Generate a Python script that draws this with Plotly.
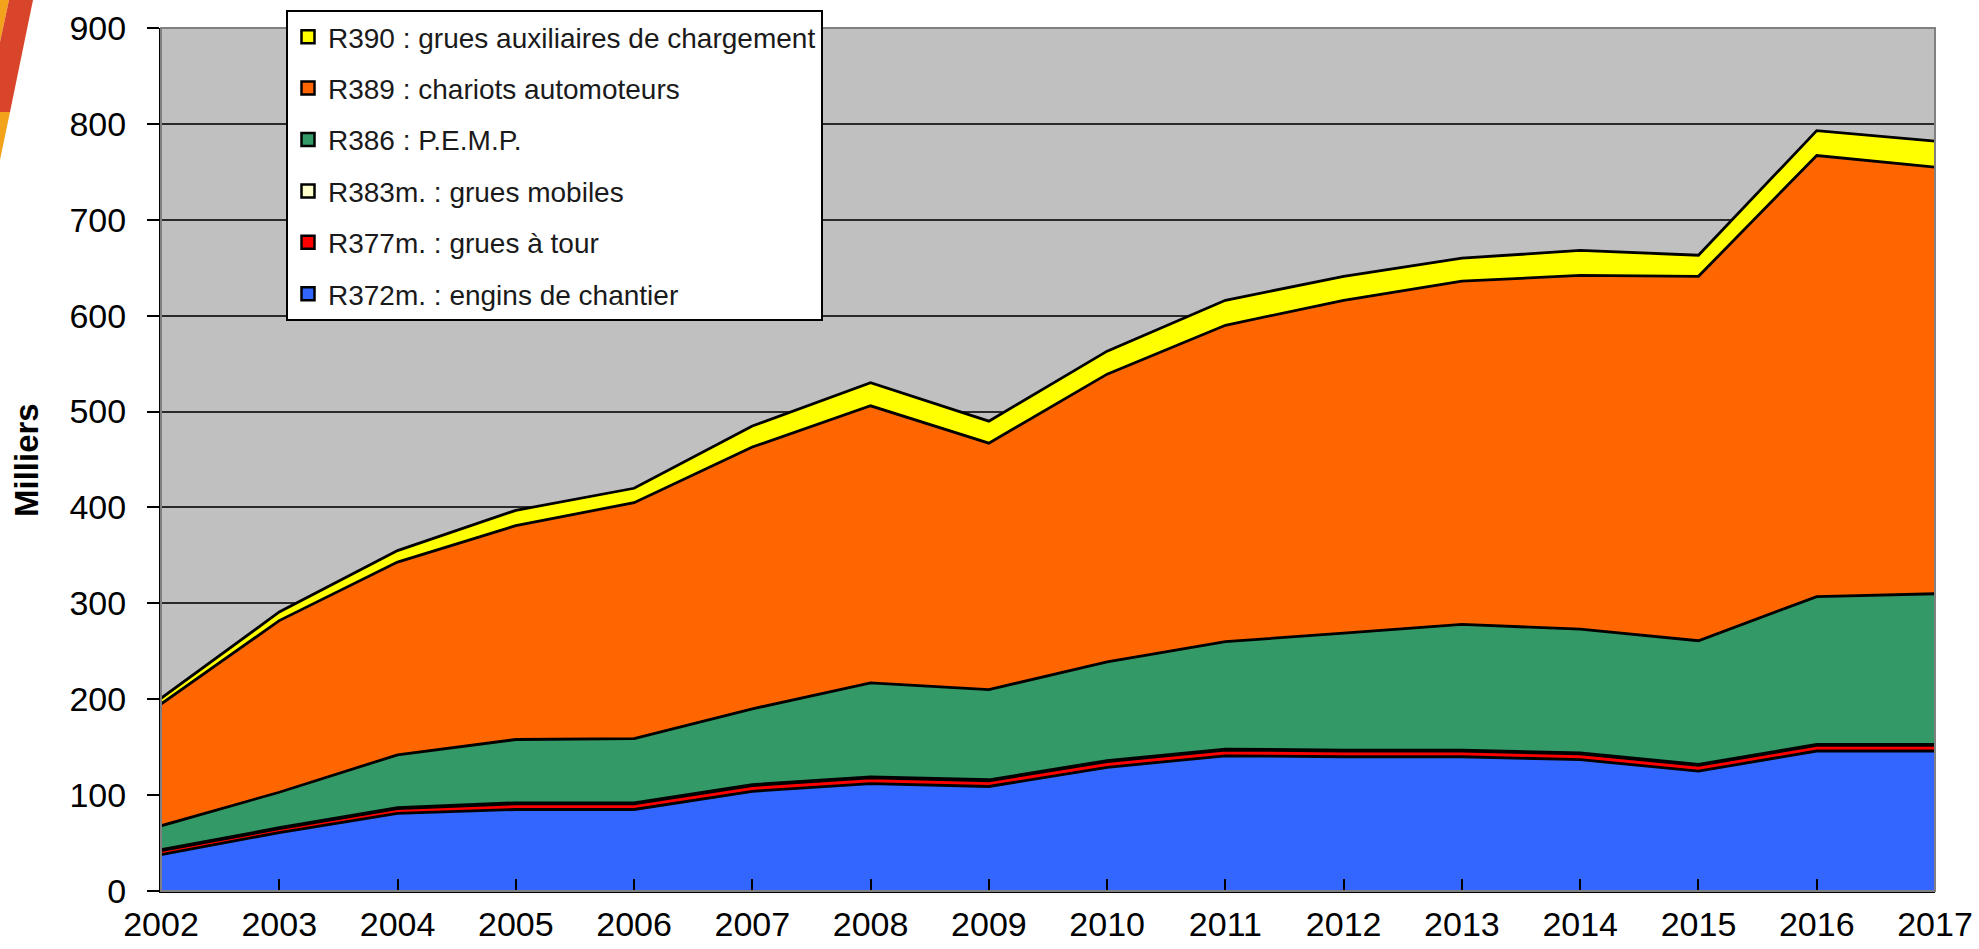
import plotly.graph_objects as go

years = list(range(2002, 2018))

# layer values (thousands), stacked bottom -> top
r372_engins = [38, 61, 81, 85, 85, 104, 112, 109, 129, 141, 140, 140, 137, 125, 146, 146]
r377_tour = [4, 4, 5, 6, 6, 6, 6, 6, 6, 6, 6, 6, 6, 6, 6, 6]
r383_mobiles = [1, 1, 1, 1, 1, 1, 1, 1, 1, 1, 1, 1, 1, 1, 1, 1]
r386_pemp = [25, 37, 55, 66, 67, 79, 98, 94, 103, 112, 122, 131, 129, 129, 154, 157]
r389_chariots = [127, 179, 201, 223, 246, 273, 289, 257, 300, 330, 347, 358, 369, 380, 460, 445]
r390_grues_aux = [6, 9, 12, 16, 15, 22, 24, 23, 24, 26, 25, 24, 26, 22, 26, 27]

series_names = [
    "R372m. : engins de chantier",
    "R377m. : grues à tour",
    "R383m. : grues mobiles",
    "R386 : P.E.M.P.",
    "R389 : chariots automoteurs",
    "R390 : grues auxiliaires de chargement",
]
series_values = [r372_engins, r377_tour, r383_mobiles, r386_pemp, r389_chariots, r390_grues_aux]
series_colors = ["#3366FF", "#FF0000", "#FFFFCC", "#339966", "#FF6600", "#FFFF00"]

y_ticks = list(range(0, 1000, 100))

W, H = 1979, 949
L, R, T, B = 161, 44, 28, 58
pw, ph = W - L - R, H - T - B


def px(x):
    return (x - L) / pw


def py(y):
    return (H - B - y) / ph


fig = go.Figure()
for name, vals, col in zip(series_names, series_values, series_colors):
    fig.add_trace(go.Scatter(
        x=years, y=vals, name=name, mode="lines",
        stackgroup="one", fillcolor=col,
        line=dict(color="#000000", width=2.8),
        showlegend=False,
    ))

# legend entries (square swatches), top entry = top layer
for i, (name, col) in enumerate(zip(series_names[::-1], series_colors[::-1])):
    fig.add_trace(go.Scatter(
        x=[None], y=[None], name=name, mode="markers",
        marker=dict(symbol="square", size=13, color=col,
                    line=dict(color="#000000", width=2.5)),
        legendgroup=f"g{i}", showlegend=True,
    ))

font = "Liberation Sans, Arial, sans-serif"

fig.update_layout(
    width=W, height=H,
    margin=dict(l=L, r=R, t=T, b=B, autoexpand=False),
    paper_bgcolor="white",
    plot_bgcolor="#C0C0C0",
    showlegend=True,
    legend=dict(
        x=px(286), y=py(10), xanchor="left", yanchor="top",
        bgcolor="white", bordercolor="#000000", borderwidth=2,
        traceorder="grouped", tracegroupgap=12,
        font=dict(family=font, size=28, color="#1a1a1a"),
        itemwidth=30,
    ),
    xaxis=dict(
        range=[2002, 2017], tickvals=years, ticktext=[str(y) for y in years],
        ticks="inside", ticklen=12, tickwidth=2, tickcolor="#000",
        showline=True, linecolor="#000", linewidth=2,
        showgrid=False, zeroline=False,
        tickfont=dict(family=font, size=34, color="#000"),
        ticklabelstandoff=2,
    ),
    yaxis=dict(
        range=[0, 900], tickvals=y_ticks,
        ticks="outside", ticklen=12, tickwidth=2, tickcolor="#000",
        showline=True, linecolor="#000", linewidth=2,
        showgrid=True, gridcolor="#2a2a2a", gridwidth=1.6,
        zeroline=False,
        tickfont=dict(family=font, size=34, color="#000"),
        ticklabelstandoff=14,
    ),
    annotations=[dict(
        text="<b>Milliers</b>", xref="paper", yref="paper",
        x=px(26), y=py(460), xanchor="center", yanchor="middle",
        textangle=-90, showarrow=False,
        font=dict(family=font, size=33, color="#000"),
    )],
    shapes=[
        # plot frame (gray top / right)
        dict(type="rect", xref="paper", yref="paper", x0=0, y0=0, x1=1, y1=1,
             line=dict(color="#808080", width=2), layer="above"),
        # decorative corner stripes
        dict(type="path", xref="paper", yref="paper",
             path=f"M {px(0)} {py(0)} L {px(9)} {py(0)} L {px(0)} {py(42)} Z",
             fillcolor="#F3A21C", line=dict(width=0), layer="above"),
        dict(type="path", xref="paper", yref="paper",
             path=f"M {px(9)} {py(0)} L {px(33)} {py(0)} L {px(10)} {py(112)} L {px(0)} {py(112)} L {px(0)} {py(42)} Z",
             fillcolor="#D8452A", line=dict(width=0), layer="above"),
        dict(type="path", xref="paper", yref="paper",
             path=f"M {px(0)} {py(112)} L {px(10)} {py(112)} L {px(0)} {py(160)} Z",
             fillcolor="#F3A21C", line=dict(width=0), layer="above"),
    ],
)

fig.write_html(
    "out.html",
    config={"displayModeBar": False},
    post_script="document.body.style.margin='0';document.body.style.overflow='hidden';",
)
